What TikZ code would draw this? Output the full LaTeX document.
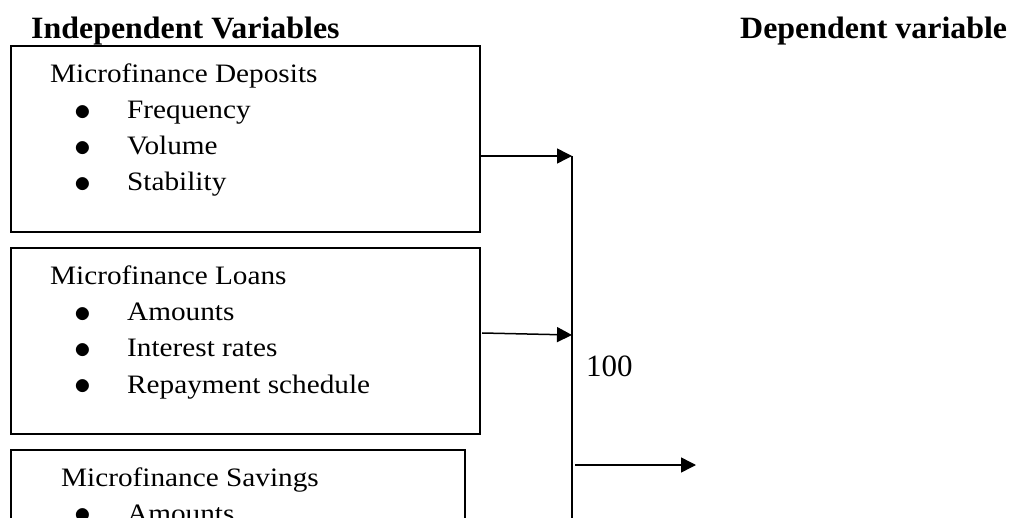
\documentclass[tikz,border=0pt]{standalone}
\usepackage{fontspec}
\setmainfont{Liberation Serif}
\newfontfamily\bodyfont[FakeStretch=1.1]{Liberation Serif}
\newfontfamily\headfont[FakeStretch=1.03]{Liberation Serif}
\usepackage{tikz}
\usetikzlibrary{
  arrows.meta,
  positioning,  % Function "of" (e.g. [right=of x])
}
\newcommand{\bul}[1]{\makebox[53pt][l]{\raisebox{-1.5pt}{\scalebox{1.35}{$\bullet$}}}#1}
\def\mylinedist{36}
\tikzset{
  font=\bodyfont\fontsize{26.6}{32}\selectfont,
  >={Triangle[length=15pt,width=15pt]},
  my head/.style={
    font=\headfont\fontsize{31}{36}\selectfont\bfseries,
    anchor=base west,
    inner sep=0pt
  },
  my line/.style={
    anchor=base west,
    inner sep=0pt
  },
  my box/.style={
    draw,
    fill=white,
    line width=2pt,
    anchor=north west,
    minimum width=469pt,
    minimum height=186pt,
    inner sep=0pt,
    rectangle
  },
  my link/.style={
    line width=1.5pt
  }
}
\begin{document}
\begin{tikzpicture}[x=1pt,y=-1pt]
\useasboundingbox (0,0) rectangle (1009,518);
\clip (0,0) rectangle (1009,518);
% headings
\node[my head] (indep) at (31,39)  {Independent Variables};
\node[my head] (dep)   at (740,39) {Dependent variable};
% boxes
\node[my box]                      (deposits) at (10,45)  {};
\node[my box]                      (loans)    at (10,247) {};
\node[my box,minimum width=454pt]  (savings)  at (10,449) {};
% box texts
\node[my line] (deposits title) at (50,83) {Microfinance Deposits};
\foreach \t [count=\i] in {Frequency,Volume,Stability}
  \node[my line] (deposits \i) at (74,83+\mylinedist*\i) {\bul{\t}};
\node[my line] (loans title) at (50,285) {Microfinance Loans};
\foreach \t [count=\i] in {Amounts,Interest rates,Repayment schedule}
  \node[my line] (loans \i) at (74,285+\mylinedist*\i) {\bul{\t}};
\node[my line] (savings title) at (61,486) {Microfinance Savings};
\node[my line] (savings 1) at (74,522) {\bul{Amounts}};
% connectors
\coordinate (join1)     at (572,156);
\coordinate (join2)     at (572,335);
\coordinate (loans out) at (482,333);
\coordinate (bar end)   at (572,530);
\coordinate (out start) at (575,465);
\coordinate (out end)   at (696,465);
\node[my line,font=\fontsize{31}{36}\selectfont] (count) at (586,377) {100};
\draw[my link] (join1) -- (bar end);
\draw[my link,->] (deposits.east |- join1) -- (join1);
\draw[my link,->] (loans out) -- (join2);
\draw[my link,->] (out start) -- (out end);
\end{tikzpicture}
\end{document}
